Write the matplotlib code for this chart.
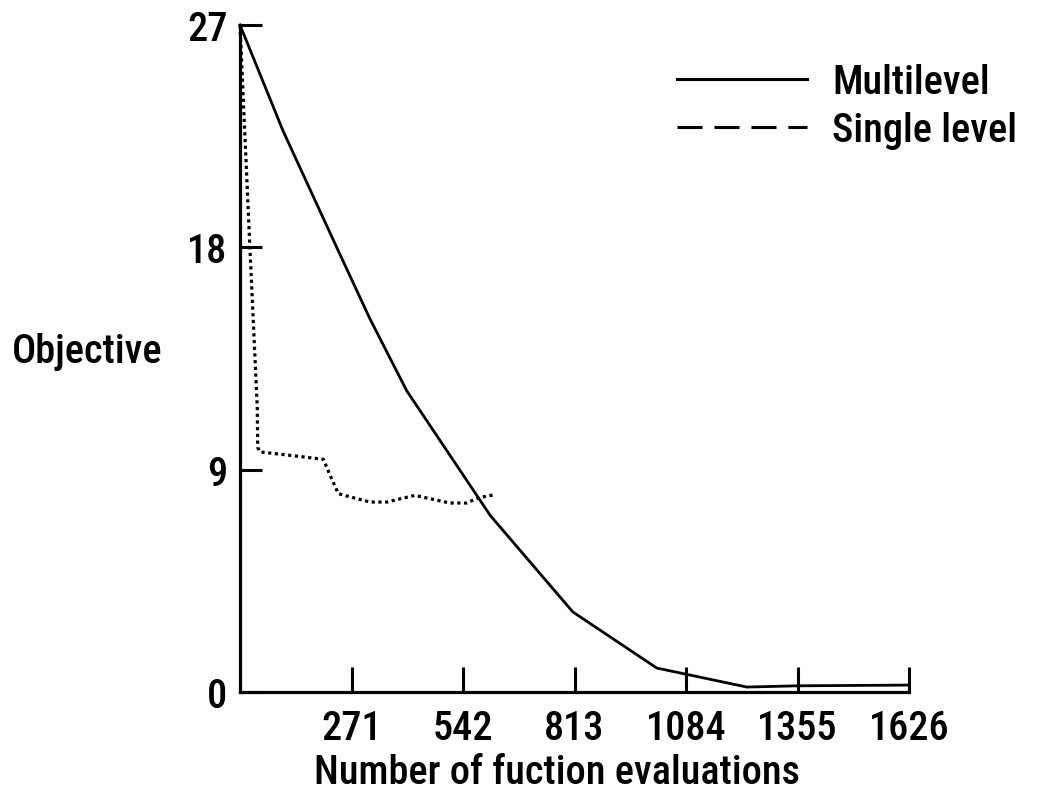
import matplotlib
matplotlib.use("Agg")
import matplotlib.pyplot as plt
from matplotlib.lines import Line2D
from matplotlib import font_manager

# ---- data ----
multi_x = [0, 105, 235, 316, 405, 608, 809, 1013, 1232, 1355, 1626]
multi_y = [27, 22.7, 18.0, 15.1, 12.2, 7.15, 3.24, 0.97, 0.2, 0.25, 0.28]

single_x = [0, 24, 42, 43, 48.6, 121.5, 202.6, 219, 239, 267, 316, 357, 425, 510, 551, 579, 620]
single_y = [27, 18, 11.5, 9.9, 9.72, 9.58, 9.42, 8.77, 8.03, 7.9, 7.69, 7.69, 7.96, 7.65, 7.65, 7.86, 7.99]

xticks = [271, 542, 813, 1084, 1355, 1626]
yticks = [0, 9, 18, 27]
series_labels = ["Multilevel", "Single level"]
xlabel = "Number of fuction evaluations"
ylabel = "Objective"

# ---- font: prefer a narrow / condensed sans ----
fonts = font_manager.fontManager.ttflist
names = {f.name for f in fonts}
cond_stretch = {"condensed", "semi-condensed", "extra-condensed", "ultra-condensed"}
family, stretch = None, "normal"
for cand in ["Liberation Sans Narrow", "Roboto Condensed", "Noto Sans Condensed",
             "Open Sans Condensed", "DejaVu Sans Condensed"]:
    if cand in names:
        family = cand
        break
if family is None:
    for base in ["Noto Sans", "Open Sans", "Roboto", "DejaVu Sans"]:
        if any(f.name == base and str(f.stretch) in cond_stretch for f in fonts):
            family, stretch = base, "condensed"
            break
if family is None:
    family, stretch = "DejaVu Sans", "condensed"
plt.rcParams["font.family"] = [family, "DejaVu Sans"]
plt.rcParams["font.stretch"] = stretch
plt.rcParams["font.weight"] = "medium"
FS = 29

W, H = 1037, 803
fig = plt.figure(figsize=(W / 100, H / 100), dpi=100)
left, right, top, bottom = 240, 909, 26, 693
ax = fig.add_axes([left / W, 1 - bottom / H, (right - left) / W, (bottom - top) / H])
ax.set_xlim(0, 1626)
ax.set_ylim(0, 27)

ax.plot(multi_x, multi_y, color="black", lw=2.0, clip_on=False, solid_joinstyle="miter")
ax.plot(single_x, single_y, color="black", lw=2.3, linestyle=(0, (1.0, 1.1)), clip_on=False)

for s in ["top", "right"]:
    ax.spines[s].set_visible(False)
for s in ["left", "bottom"]:
    ax.spines[s].set_linewidth(2.3)

ax.set_xticks(xticks)
ax.set_xticklabels([str(v) for v in xticks])
ax.set_yticks(yticks)
ax.set_yticklabels([str(v) for v in yticks])
ax.tick_params(axis="x", direction="in", length=18, width=2.2, pad=12, labelsize=FS)
ax.tick_params(axis="y", direction="in", length=16, width=2.2, pad=9, labelsize=FS)

fig.text(12 / W, 1 - 363 / H, ylabel, ha="left", va="baseline", fontsize=FS)
fig.text(557 / W, 1 - 784 / H, xlabel, ha="center", va="baseline", fontsize=FS)

# ---- legend ----
tf = fig.transFigure
fig.add_artist(Line2D([677 / W, 807 / W], [1 - 80 / H] * 2, transform=tf, color="black", lw=2.2))
fig.add_artist(Line2D([677 / W, 807 / W], [1 - 128 / H] * 2, transform=tf, color="black", lw=2.2,
                      linestyle=(0, (8.2, 3.9))))
fig.text(832 / W, 1 - 94 / H, series_labels[0], ha="left", va="baseline", fontsize=FS)
fig.text(832 / W, 1 - 142 / H, series_labels[1], ha="left", va="baseline", fontsize=FS)

fig.savefig("out.png", dpi=100)
